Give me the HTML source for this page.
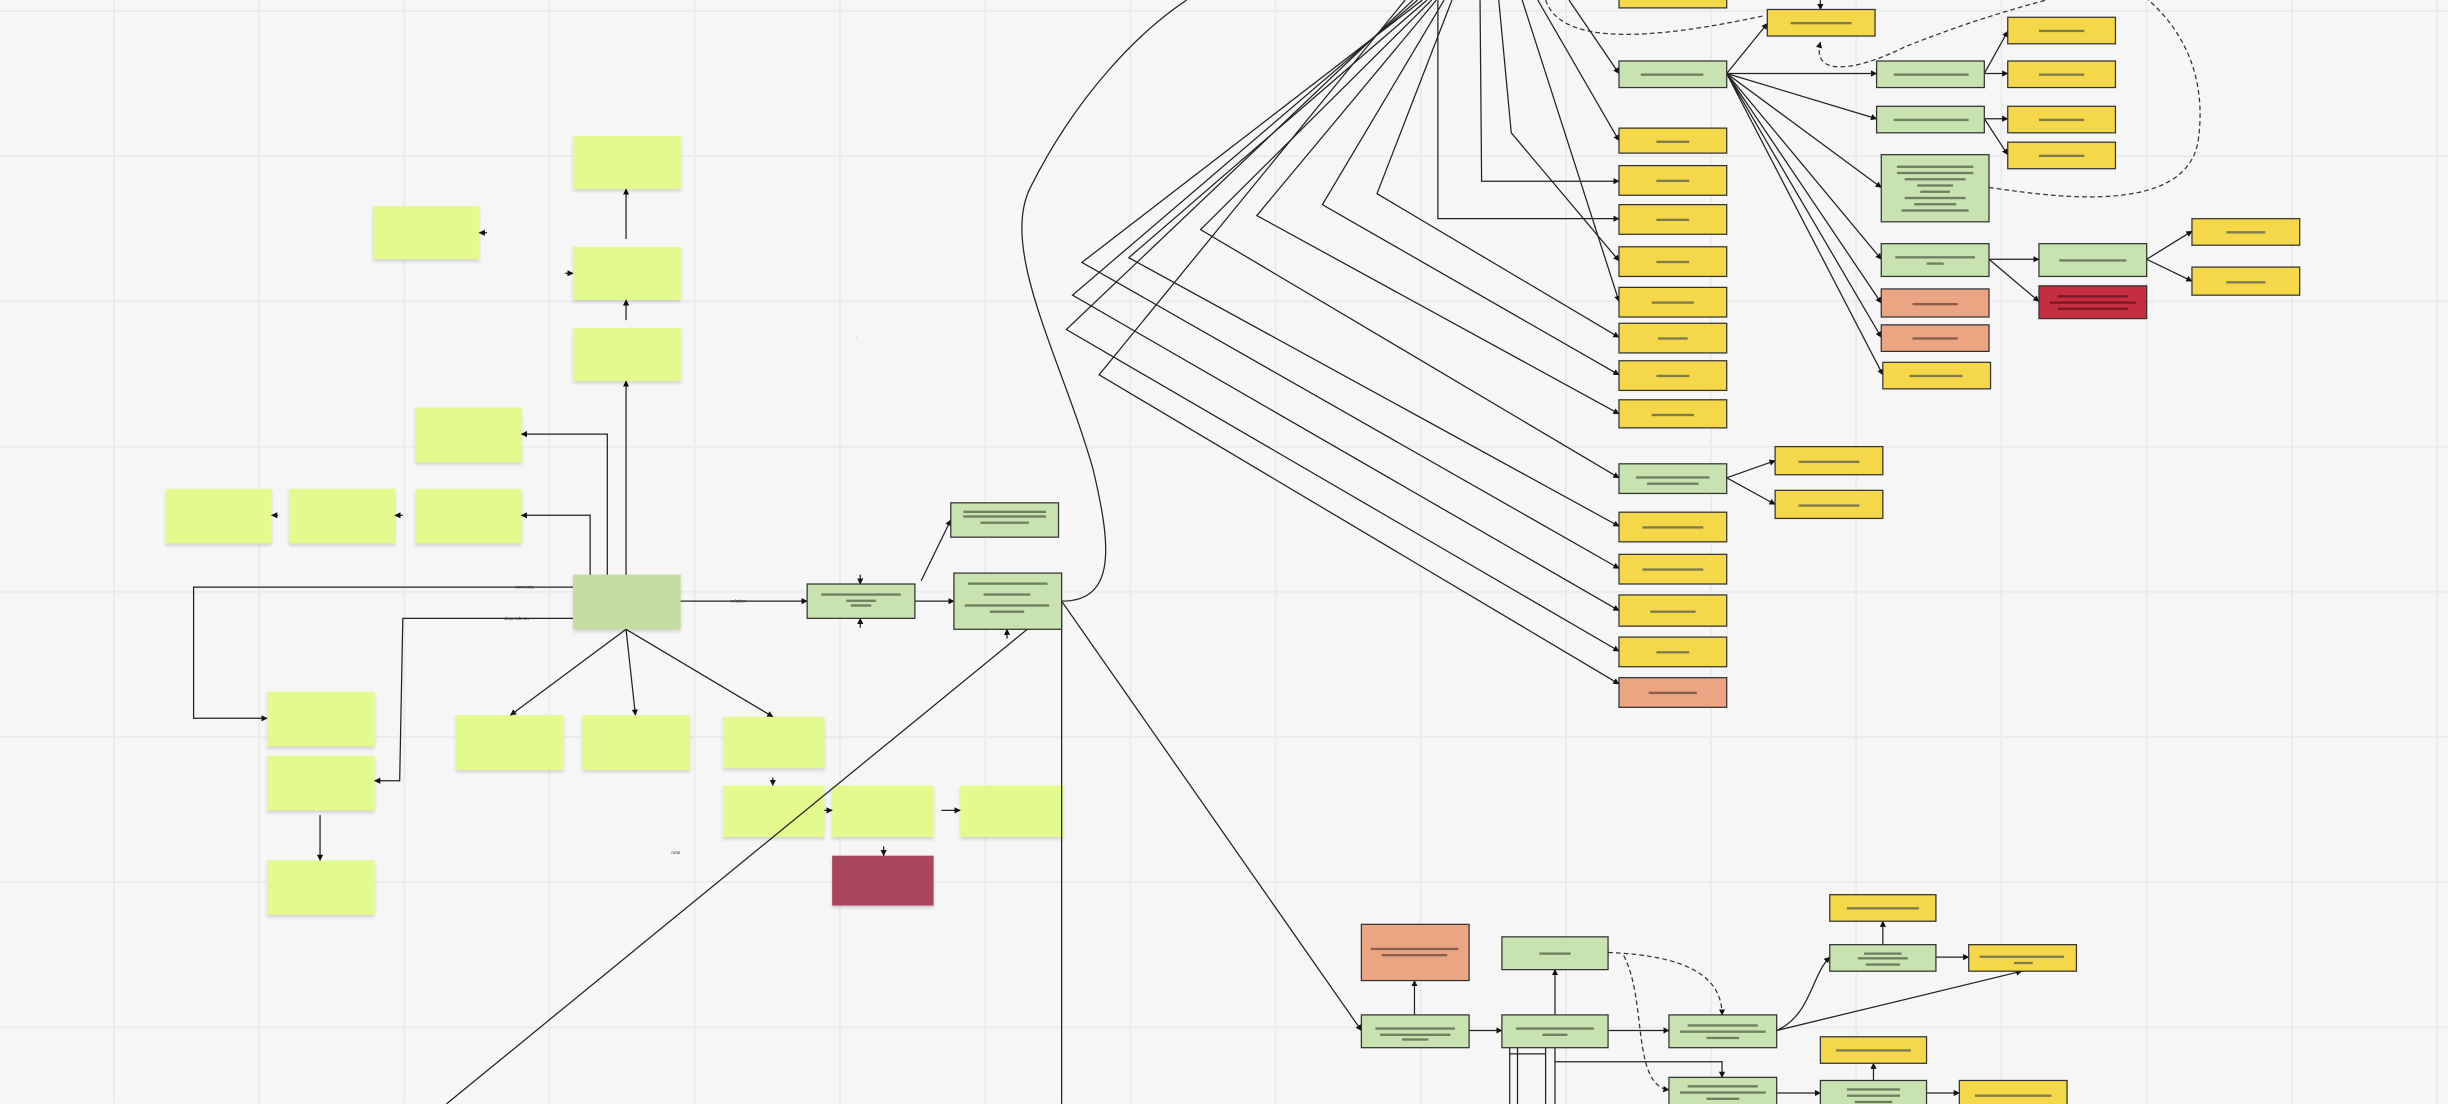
<!DOCTYPE html>
<html><head><meta charset="utf-8"><style>
html,body{margin:0;padding:0;background:#f6f6f6;}
svg{display:block;}
</style></head><body>
<svg width="2448" height="1104" viewBox="0 0 1568 707" xmlns="http://www.w3.org/2000/svg" font-family="Liberation Sans, sans-serif">
<defs>
<marker id="a" viewBox="0 0 10 10" refX="9" refY="5" markerWidth="5" markerHeight="5" orient="auto-start-reverse"><path d="M0,0L10,5L0,10z" fill="#111"/></marker>
<filter id="sh" x="-10%" y="-10%" width="130%" height="140%"><feDropShadow dx="0" dy="1.5" stdDeviation="1" flood-color="#000" flood-opacity="0.15"/></filter>
</defs>
<rect width="1568" height="707" fill="#f6f6f6"/>
<g stroke="#ebebeb" stroke-width="1.2">
<path d="M73,0V707M166,0V707M259,0V707M352,0V707M445,0V707M538,0V707M631,0V707M724,0V707M817,0V707M910,0V707M1003,0V707M1096,0V707M1189,0V707M1282,0V707M1375,0V707M1468,0V707M1561,0V707"/>
<path d="M0,7H1568M0,100H1568M0,193H1568M0,286H1568M0,379H1568M0,472H1568M0,565H1568M0,658H1568"/>
</g>

<!-- sticky notes -->
<g fill="#e3fa8e" filter="url(#sh)">
<rect x="367" y="87" width="69" height="34"/>
<rect x="239" y="132" width="68" height="34"/>
<rect x="367" y="158" width="69" height="34"/>
<rect x="367" y="210" width="69" height="34"/>
<rect x="266" y="261" width="68" height="35"/>
<rect x="106" y="313" width="68" height="35"/>
<rect x="185" y="313" width="68" height="35"/>
<rect x="266" y="313" width="68" height="35"/>
<rect x="171" y="443" width="69" height="35"/>
<rect x="171" y="484" width="69" height="35"/>
<rect x="171" y="551" width="69" height="35"/>
<rect x="292" y="458" width="69" height="35"/>
<rect x="373" y="458" width="69" height="35"/>
<rect x="463" y="459" width="65" height="33"/>
<rect x="463" y="503" width="65" height="33"/>
<rect x="533" y="503" width="65" height="33"/>
<rect x="615" y="503" width="66" height="33"/>
<rect x="367" y="368" width="69" height="35" fill="#c5dca2"/>
<rect x="533" y="548" width="65" height="32" fill="#a8475e"/>
</g>

<!-- connectors left -->
<g stroke="#222" stroke-width="0.8" fill="none" marker-end="url(#a)">
<path d="M401,368L401,244"/>
<path d="M389,368L389,278L334,278"/>
<path d="M378,368L378,330L334,330"/>
<path d="M367,376L124,376L124,460L171,460"/>
<path d="M367,396L258,396L256,500L240,500"/>
<path d="M401,403L327,458"/>
<path d="M401,403L407,458"/>
<path d="M401,403L495,459"/>
<path d="M436,385L517,385"/>
<path d="M586,385L611,385"/>
<path d="M590,372L609,333"/>
<path d="M401,205L401,192"/>
<path d="M401,153L401,121"/>
<path d="M362,175L367,175"/>
<path d="M312,149L307,149"/>
<path d="M178,330L174,330"/>
<path d="M258,330L253,330"/>
<path d="M205,522L205,551"/>
<path d="M495,498L495,503"/>
<path d="M528,519L533,519"/>
<path d="M603,519L615,519"/>
<path d="M566,542L566,548"/>
<path d="M551,368L551,374"/>
<path d="M551,402L551,396"/>
<path d="M645,409L645,403"/>
<path d="M680,385L872,660"/>
</g>
<g stroke="#222" stroke-width="0.8" fill="none">
<path d="M680,385C715,385 712,350 700,300C680,230 640,160 660,120C690,60 730,20 760,0"/>
<path d="M680,385L286,707"/>
<path d="M680,385L680,707"/>
</g>

<!-- fan lines -->
<g stroke="#222" stroke-width="0.8" fill="none" marker-end="url(#a)">
<path d="M1005,0L1037,47"/>
<path d="M985,0L1037,90"/>
<path d="M948,0L949,116L1037,116"/>
<path d="M921,0L921,140L1037,140"/>
<path d="M960,0L968,85L1037,167"/>
<path d="M975,0L1037,193"/>
<path d="M930,0L882,124L1037,216"/>
<path d="M925,0L847,131L1037,240"/>
<path d="M920,0L805,138L1037,265"/>
<path d="M917,0L769,147L1037,306"/>
<path d="M914,0L723,165L1037,337"/>
<path d="M911,0L693,168L1037,364"/>
<path d="M908,0L687,189L1037,391"/>
<path d="M905,0L683,211L1037,417"/>
<path d="M900,0L704,240L1037,438"/>
<!-- right top -->
<path d="M1106,47L1132,15"/>
<path d="M1106,47L1202,47"/>
<path d="M1106,47L1202,76"/>
<path d="M1106,47L1205,120"/>
<path d="M1106,47L1205,166"/>
<path d="M1106,47L1205,194"/>
<path d="M1106,47L1205,216"/>
<path d="M1106,47L1206,240"/>
<path d="M1271,47L1286,20"/>
<path d="M1271,47L1286,47"/>
<path d="M1271,76L1286,76"/>
<path d="M1271,76L1286,99"/>
<path d="M1274,166L1306,166"/>
<path d="M1274,166L1306,193"/>
<path d="M1375,166L1404,148"/>
<path d="M1375,166L1404,180"/>
<path d="M1106,306L1137,295"/>
<path d="M1106,306L1137,323"/>
<path d="M1166,0L1166,6"/>
<!-- bottom -->
<path d="M906,650L906,628"/>
<path d="M941,660L962,660"/>
<path d="M996,650L996,621"/>
<path d="M1030,660L1069,660"/>
<path d="M1138,660C1160,650 1160,625 1172,613"/>
<path d="M1138,660L1295,622"/>
<path d="M1206,605L1206,590"/>
<path d="M1240,613L1261,613"/>
<path d="M996,680L1103,680L1103,690"/>
<path d="M1138,700L1166,700"/>
<path d="M1200,692L1200,681"/>
<path d="M1234,700L1255,700"/>
</g>
<g stroke="#333" stroke-width="0.8" fill="none" stroke-dasharray="3,2">
<path d="M1030,610C1080,612 1103,625 1103,650" marker-end="url(#a)"/>
<path d="M1040,612C1055,640 1045,695 1069,698" marker-end="url(#a)"/>
<path d="M1166,27C1160,50 1190,45 1220,30C1270,10 1310,0 1330,-5" marker-start="url(#a)"/>
<path d="M1274,120C1310,125 1400,140 1408,90C1415,40 1390,10 1370,-5"/>
<path d="M990,0C1000,30 1060,25 1130,10"/>
</g>
<g stroke="#222" stroke-width="0.8" fill="none">
<path d="M967,671V707M972,671V707M990,671V707M996,671V707"/>
<path d="M967,675H990"/>
</g>

<!-- boxes -->
<g stroke="#333" stroke-width="0.8">
<g fill="#c8e2b0">
<rect x="517" y="374" width="69" height="22"/>
<rect x="609" y="322" width="69" height="22"/>
<rect x="611" y="367" width="69" height="36"/>
<rect x="1037" y="39" width="69" height="17"/>
<rect x="1202" y="39" width="69" height="17"/>
<rect x="1202" y="68" width="69" height="17"/>
<rect x="1205" y="99" width="69" height="43"/>
<rect x="1205" y="156" width="69" height="21"/>
<rect x="1306" y="156" width="69" height="21"/>
<rect x="1037" y="297" width="69" height="19"/>
<rect x="962" y="600" width="68" height="21"/>
<rect x="872" y="650" width="69" height="21"/>
<rect x="962" y="650" width="68" height="21"/>
<rect x="1069" y="650" width="69" height="21"/>
<rect x="1172" y="605" width="68" height="17"/>
<rect x="1069" y="690" width="69" height="20"/>
<rect x="1166" y="692" width="68" height="18"/>
</g>
<g fill="#f4d84a">
<rect x="1037" y="-10" width="69" height="15"/>
<rect x="1132" y="6" width="69" height="17"/>
<rect x="1286" y="11" width="69" height="17"/>
<rect x="1286" y="39" width="69" height="17"/>
<rect x="1286" y="68" width="69" height="17"/>
<rect x="1286" y="91" width="69" height="17"/>
<rect x="1037" y="82" width="69" height="16"/>
<rect x="1037" y="106" width="69" height="19"/>
<rect x="1037" y="131" width="69" height="19"/>
<rect x="1037" y="158" width="69" height="19"/>
<rect x="1037" y="184" width="69" height="19"/>
<rect x="1037" y="207" width="69" height="19"/>
<rect x="1037" y="231" width="69" height="19"/>
<rect x="1037" y="256" width="69" height="18"/>
<rect x="1137" y="286" width="69" height="18"/>
<rect x="1137" y="314" width="69" height="18"/>
<rect x="1037" y="328" width="69" height="19"/>
<rect x="1037" y="355" width="69" height="19"/>
<rect x="1037" y="381" width="69" height="20"/>
<rect x="1037" y="408" width="69" height="19"/>
<rect x="1404" y="140" width="69" height="17"/>
<rect x="1404" y="171" width="69" height="18"/>
<rect x="1206" y="232" width="69" height="17"/>
<rect x="1172" y="573" width="68" height="17"/>
<rect x="1261" y="605" width="69" height="17"/>
<rect x="1166" y="664" width="68" height="17"/>
<rect x="1255" y="692" width="69" height="18"/>
</g>
<g fill="#eba582">
<rect x="1205" y="185" width="69" height="18"/>
<rect x="1205" y="208" width="69" height="17"/>
<rect x="1037" y="434" width="69" height="19"/>
<rect x="872" y="592" width="69" height="36"/>
</g>
<rect x="1306" y="183" width="69" height="21" fill="#c42e40"/>
</g>

<!-- text bars -->
<g fill="#6b6b4a" opacity="0.85">
<rect x="526" y="380" width="51" height="1.5" fill="#5f6f55"/><rect x="542" y="384" width="19" height="1.5" fill="#5f6f55"/><rect x="545" y="387" width="13" height="1.5" fill="#5f6f55"/>
<rect x="617" y="327" width="53" height="1.5" fill="#5f6f55"/><rect x="617" y="330" width="53" height="1.5" fill="#5f6f55"/><rect x="628" y="334" width="31" height="1.5" fill="#5f6f55"/>
<rect x="620" y="373" width="51" height="1.5" fill="#5f6f55"/><rect x="630" y="380" width="30" height="1.5" fill="#5f6f55"/><rect x="618" y="387" width="54" height="1.5" fill="#5f6f55"/><rect x="634" y="391" width="22" height="1.5" fill="#5f6f55"/>
<rect x="1051" y="47" width="40" height="1.5" fill="#5f6f55"/>
<rect x="1213" y="47" width="48" height="1.5" fill="#5f6f55"/>
<rect x="1213" y="76" width="48" height="1.5" fill="#5f6f55"/>
<rect x="1215" y="106" width="49" height="1.5" fill="#5f6f55"/><rect x="1215" y="110" width="49" height="1.5" fill="#5f6f55"/><rect x="1220" y="114" width="39" height="1.5" fill="#5f6f55"/><rect x="1228" y="118" width="23" height="1.5" fill="#5f6f55"/><rect x="1230" y="122" width="19" height="1.5" fill="#5f6f55"/><rect x="1220" y="126" width="39" height="1.5" fill="#5f6f55"/><rect x="1226" y="130" width="27" height="1.5" fill="#5f6f55"/><rect x="1218" y="134" width="43" height="1.5" fill="#5f6f55"/>
<rect x="1214" y="164" width="51" height="1.5" fill="#5f6f55"/><rect x="1234" y="168" width="11" height="1.5" fill="#5f6f55"/>
<rect x="1319" y="166" width="43" height="1.5" fill="#5f6f55"/>
<rect x="1048" y="305" width="47" height="1.5" fill="#5f6f55"/><rect x="1055" y="309" width="33" height="1.5" fill="#5f6f55"/>
<rect x="986" y="610" width="20" height="1.5" fill="#5f6f55"/>
<rect x="881" y="658" width="51" height="1.5" fill="#5f6f55"/><rect x="884" y="662" width="45" height="1.5" fill="#5f6f55"/><rect x="898" y="665" width="17" height="1.5" fill="#5f6f55"/>
<rect x="971" y="658" width="50" height="1.5" fill="#5f6f55"/><rect x="988" y="662" width="16" height="1.5" fill="#5f6f55"/>
<rect x="1081" y="656" width="45" height="1.5" fill="#5f6f55"/><rect x="1076" y="660" width="55" height="1.5" fill="#5f6f55"/><rect x="1093" y="664" width="21" height="1.5" fill="#5f6f55"/>
<rect x="1194" y="610" width="24" height="1.5" fill="#5f6f55"/><rect x="1190" y="613" width="32" height="1.5" fill="#5f6f55"/><rect x="1195" y="617" width="22" height="1.5" fill="#5f6f55"/>
<rect x="1081" y="695" width="45" height="1.5" fill="#5f6f55"/><rect x="1076" y="699" width="55" height="1.5" fill="#5f6f55"/><rect x="1093" y="703" width="21" height="1.5" fill="#5f6f55"/>
<rect x="1183" y="697" width="34" height="1.5" fill="#5f6f55"/><rect x="1183" y="701" width="34" height="1.5" fill="#5f6f55"/><rect x="1188" y="705" width="24" height="1.5" fill="#5f6f55"/>
<!-- yellow -->
<rect x="1147" y="14" width="39" height="1.5"/>
<rect x="1306" y="19" width="29" height="1.5"/><rect x="1306" y="47" width="29" height="1.5"/><rect x="1306" y="76" width="29" height="1.5"/><rect x="1306" y="99" width="29" height="1.5"/>
<rect x="1061" y="90" width="21" height="1.5"/><rect x="1061" y="115" width="21" height="1.5"/><rect x="1061" y="140" width="21" height="1.5"/><rect x="1061" y="167" width="21" height="1.5"/><rect x="1058" y="193" width="27" height="1.5"/><rect x="1062" y="216" width="19" height="1.5"/><rect x="1061" y="240" width="21" height="1.5"/><rect x="1058" y="265" width="27" height="1.5"/>
<rect x="1152" y="295" width="39" height="1.5"/><rect x="1152" y="323" width="39" height="1.5"/>
<rect x="1052" y="337" width="39" height="1.5"/><rect x="1052" y="364" width="39" height="1.5"/><rect x="1057" y="391" width="29" height="1.5"/><rect x="1061" y="417" width="21" height="1.5"/>
<rect x="1426" y="148" width="25" height="1.5"/><rect x="1426" y="180" width="25" height="1.5"/>
<rect x="1223" y="240" width="34" height="1.5"/>
<rect x="1183" y="581" width="46" height="1.5"/>
<rect x="1268" y="612" width="54" height="1.5"/><rect x="1290" y="616" width="12" height="1.5"/>
<rect x="1176" y="672" width="48" height="1.5"/>
<rect x="1265" y="701" width="49" height="1.5"/>
<!-- salmon/red -->
<rect x="1225" y="194" width="29" height="1.5" fill="#7a5444"/><rect x="1225" y="216" width="29" height="1.5" fill="#7a5444"/><rect x="1056" y="443" width="31" height="1.5" fill="#7a5444"/>
<rect x="878" y="607" width="56" height="1.5" fill="#7a5444"/><rect x="885" y="611" width="42" height="1.5" fill="#7a5444"/>
<rect x="1318" y="189" width="45" height="1.5" fill="#6e1620"/><rect x="1313" y="193" width="55" height="1.5" fill="#6e1620"/><rect x="1318" y="197" width="45" height="1.5" fill="#6e1620"/>
</g>
<g font-size="3" fill="#333">
<text x="468" y="386">relation</text>
<text x="330" y="377">connects</text>
<text x="323" y="397">depends on</text>
<text x="430" y="547">note</text>
<text x="548" y="217">·</text>
</g>
</svg>
</body></html>
